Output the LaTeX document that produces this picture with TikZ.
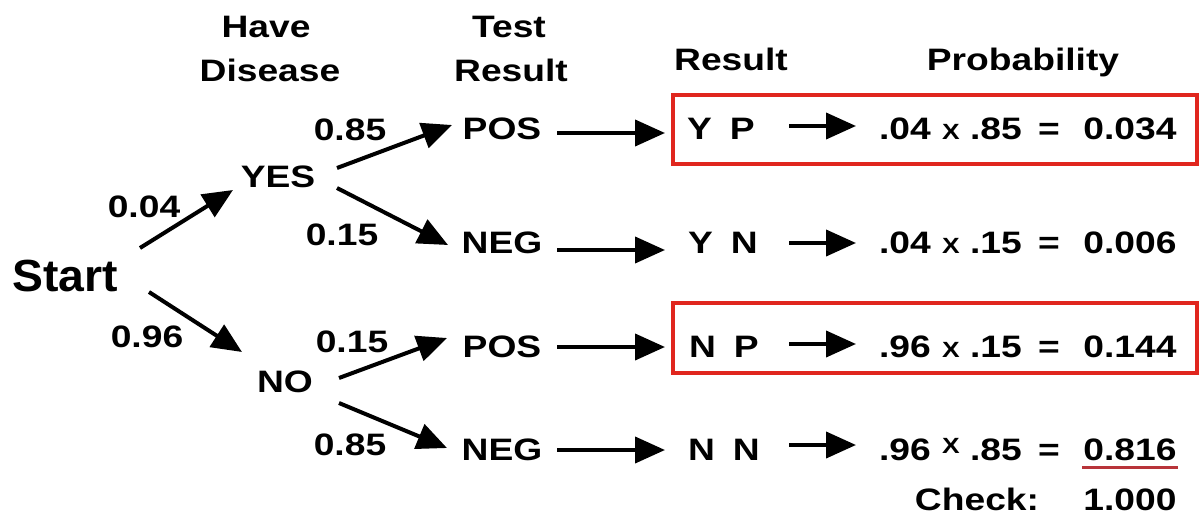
\documentclass[tikz,border=0pt]{standalone}
\usepackage{fontspec}
\setmainfont[FakeStretch=1.2]{Liberation Sans}
\newfontfamily\startfont[FakeStretch=1.03]{Liberation Sans}
\usetikzlibrary{arrows.meta}
\definecolor{boxred}{HTML}{E0261E}
\definecolor{linered}{HTML}{B8343A}
\tikzset{
  lbl/.style={anchor=base, inner sep=0pt, font=\bfseries\fontsize{15.5}{18}\selectfont},
  timesx/.style={anchor=base, inner sep=0pt, font=\bfseries\fontsize{11}{13}\selectfont},
  arr/.style={line width=2pt, -{Triangle[length=15pt,width=13pt]}},
  hl/.style={draw=boxred, line width=2pt},
}
\begin{document}
\begin{tikzpicture}[x=0.5pt,y=-0.5pt]
\useasboundingbox (0,0) rectangle (1199,514);

% headers
\node[lbl] (have) at (266,37) {Have};
\node[lbl] (disease) at (270,81) {Disease};
\node[lbl] (test) at (509,37) {Test};
\node[lbl] (testres) at (511,81) {Result};
\node[lbl] (reshead) at (731,70) {Result};
\node[lbl] (probhead) at (1023,70) {Probability};

% tree nodes
\node[anchor=base, inner sep=0pt, font=\startfont\bfseries\fontsize{22.5}{26}\selectfont] (start) at (65,291) {Start};
\node[lbl] (yes) at (278,187) {YES};
\node[lbl] (no) at (285,392) {NO};
\node[lbl] (pos1) at (502,139) {POS};
\node[lbl] (neg1) at (502,253) {NEG};
\node[lbl] (pos2) at (502,357) {POS};
\node[lbl] (neg2) at (502,460) {NEG};

% branch labels
\node[lbl] (l004) at (144,217) {0.04};
\node[lbl] (l096) at (147,347) {0.96};
\node[lbl] (l085a) at (350,140) {0.85};
\node[lbl] (l015a) at (342,245) {0.15};
\node[lbl] (l015b) at (352,352) {0.15};
\node[lbl] (l085b) at (350,455) {0.85};

% arrow ports
\coordinate (sA) at (140,248); \coordinate (yIn) at (233,190);
\coordinate (sB) at (149,292); \coordinate (nIn) at (242,352);
\coordinate (yA) at (337,168); \coordinate (p1In) at (452,125);
\coordinate (yB) at (337,188); \coordinate (n1In) at (448,245);
\coordinate (nA) at (339,378); \coordinate (p2In) at (447,338);
\coordinate (nB) at (339,403); \coordinate (n2In) at (447,448);

\draw[arr] (sA) -- (yIn);
\draw[arr] (sB) -- (nIn);
\draw[arr] (yA) -- (p1In);
\draw[arr] (yB) -- (n1In);
\draw[arr] (nA) -- (p2In);
\draw[arr] (nB) -- (n2In);

% result rows
\node[lbl] (r1) at (721,139) {Y\hspace{9pt}P};
\node[lbl] (r2) at (723,253) {Y\hspace{9pt}N};
\node[lbl] (r3) at (724,357) {N\hspace{9pt}P};
\node[lbl] (r4) at (724,460) {N\hspace{9pt}N};

\foreach \ya/\yb/\n in {133/126/1,250/243/2,347/344/3,450/445/4}{
  \coordinate (a\n) at (557,\ya); \coordinate (b\n) at (665,\ya);
  \coordinate (c\n) at (789,\yb); \coordinate (d\n) at (856,\yb);
  \draw[arr] (a\n) -- (b\n);
  \draw[arr] (c\n) -- (d\n);
}

% probabilities
\node[lbl] (f1a) at (905,139) {.04};
\node[timesx] (f1x) at (951,139) {X};
\node[lbl] (f1b) at (996,139) {.85};
\node[lbl] (f1e) at (1049,139) {=};
\node[lbl] (f1r) at (1130,139) {0.034};

\node[lbl] (f2a) at (905,253) {.04};
\node[timesx] (f2x) at (951,253) {X};
\node[lbl] (f2b) at (996,253) {.15};
\node[lbl] (f2e) at (1049,253) {=};
\node[lbl] (f2r) at (1130,253) {0.006};

\node[lbl] (f3a) at (905,357) {.96};
\node[timesx] (f3x) at (951,357) {X};
\node[lbl] (f3b) at (996,357) {.15};
\node[lbl] (f3e) at (1049,357) {=};
\node[lbl] (f3r) at (1130,357) {0.144};

\node[lbl] (f4a) at (905,460) {.96};
\node[timesx] (f4x) at (951,453) {X};
\node[lbl] (f4b) at (996,460) {.85};
\node[lbl] (f4e) at (1049,460) {=};
\node[lbl] (f4r) at (1130,460) {0.816};

% highlight boxes
\draw[hl] (673,95) rectangle (1197,164);
\draw[hl] (673,303) rectangle (1197,373);

% check
\coordinate (u1) at (1082,467); \coordinate (u2) at (1178,467);
\draw[linered, line width=1.5pt] (u1) -- (u2);
\node[lbl] (check) at (977,510) {Check:};
\node[lbl] (total) at (1130,510) {1.000};
\end{tikzpicture}
\end{document}
